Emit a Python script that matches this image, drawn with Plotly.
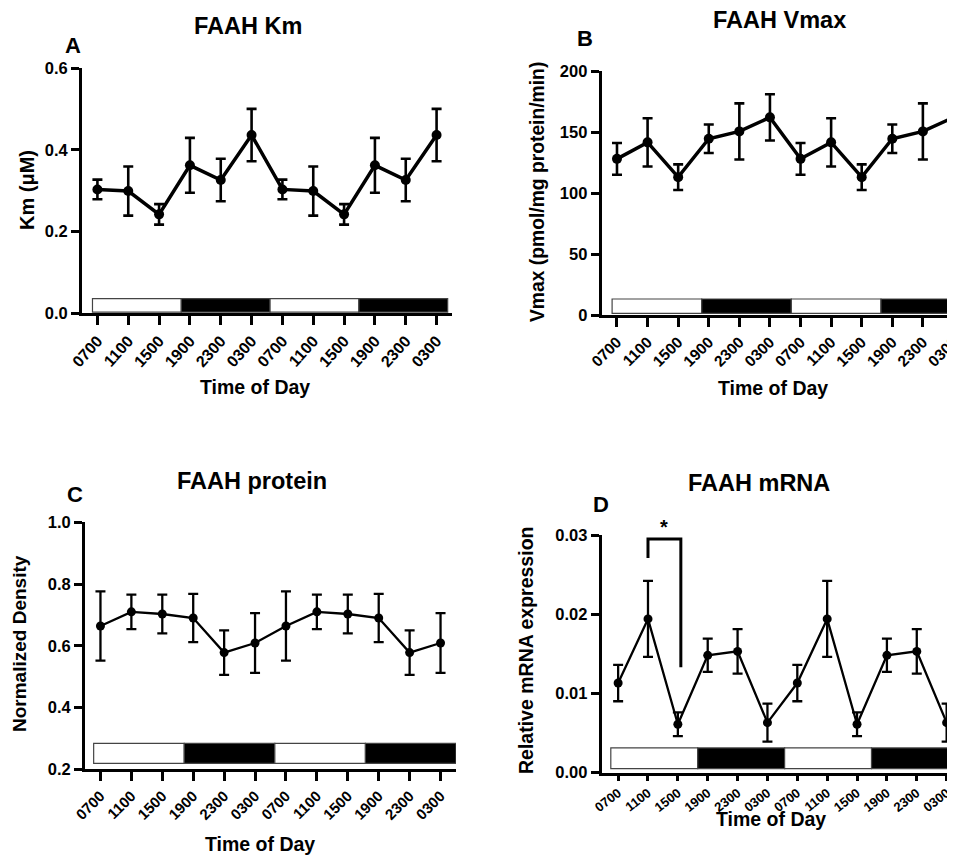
import plotly.graph_objects as go

# ---------------- data ----------------
time_labels = ["0700", "1100", "1500", "1900", "2300", "0300",
               "0700", "1100", "1500", "1900", "2300", "0300"]

km_mean = [0.303, 0.299, 0.242, 0.362, 0.326, 0.436,
           0.303, 0.299, 0.242, 0.362, 0.326, 0.436]
km_sem = [0.024, 0.060, 0.025, 0.067, 0.052, 0.064,
          0.024, 0.060, 0.025, 0.067, 0.052, 0.064]

vmax_mean = [128.0, 141.5, 113.0, 144.5, 150.5, 162.0,
             128.0, 141.5, 113.0, 144.5, 150.5, 162.0]
vmax_sem = [13.0, 19.8, 10.5, 11.7, 23.0, 19.0,
            13.0, 19.8, 10.5, 11.7, 23.0, 19.0]

protein_mean = [0.664, 0.710, 0.703, 0.690, 0.578, 0.609,
                0.664, 0.710, 0.703, 0.690, 0.578, 0.609]
protein_sem = [0.112, 0.056, 0.063, 0.078, 0.072, 0.097,
               0.112, 0.056, 0.063, 0.078, 0.072, 0.097]

mrna_mean = [0.0113, 0.0194, 0.0061, 0.0148, 0.0153, 0.0063,
             0.0113, 0.0194, 0.0061, 0.0148, 0.0153, 0.0063]
mrna_sem = [0.0023, 0.0048, 0.0015, 0.0021, 0.0028, 0.0024,
            0.0023, 0.0048, 0.0015, 0.0021, 0.0028, 0.0024]

ld_phases = ["light", "dark", "light", "dark"]

W, H = 955, 855
PAGE_OFFSET = 8  # default body margin of the html page
FONT = "Arial, Liberation Sans, Helvetica, sans-serif"
x_idx = list(range(len(time_labels)))


def px_x(p):
    return (p - PAGE_OFFSET) / W


def px_y(p):
    return 1 - (p - PAGE_OFFSET) / H


panels = [
    dict(key="A", title="FAAH Km", ytitle="Km (\u03bcM)", mean=km_mean, sem=km_sem,
         xdom=(82, 452), ydom=(313.3, 68), xr=[-0.5, 11.5], yr=[0, 0.6],
         ytick=[0, 0.2, 0.4, 0.6], yfmt=".1f", lw=3.5, ms=10, ew=2.6, ecap=5,
         bar=(-0.16, 2.88, 0.003, 0.036), ytsize=20, xtf=16, xtl=9, xta=-48,
         title_xy=(248, 26), letter_xy=(73, 46), xt_xy=(255, 387), yt_xy=(27, 190)),
    dict(key="B", title="FAAH Vmax", ytitle="Vmax (pmol/mg protein/min)", mean=vmax_mean, sem=vmax_sem,
         xdom=(601.7, 955), ydom=(315, 71), xr=[-0.5, 11.05], yr=[0, 200],
         ytick=[0, 50, 100, 150, 200], yfmt="d", lw=3.5, ms=10, ew=2.6, ecap=5,
         bar=(-0.16, 2.93, 1.4, 13.1), ytsize=19.3, xtf=15.5, xtl=9, xta=-45,
         title_xy=(779, 20), letter_xy=(585, 38), xt_xy=(773, 388), yt_xy=(538, 192)),
    dict(key="C", title="FAAH protein", ytitle="Normalized Density", mean=protein_mean, sem=protein_sem,
         xdom=(85, 456), ydom=(769.3, 522.3), xr=[-0.5, 11.5], yr=[0.2, 1.0],
         ytick=[0.2, 0.4, 0.6, 0.8, 1.0], yfmt=".1f", lw=2.3, ms=9, ew=2.3, ecap=5,
         bar=(-0.22, 2.93, 0.219, 0.284), ytsize=19, xtf=15, xtl=9, xta=-45,
         title_xy=(252, 481), letter_xy=(75, 494), xt_xy=(260, 844), yt_xy=(19, 644)),
    dict(key="D", title="FAAH mRNA", ytitle="Relative mRNA expression", mean=mrna_mean, sem=mrna_sem,
         xdom=(601.7, 955), ydom=(772.5, 535), xr=[-0.55, 11.28], yr=[0, 0.03],
         ytick=[0, 0.01, 0.02, 0.03], yfmt=".2f", lw=2.3, ms=9, ew=2.3, ecap=5,
         bar=(-0.245, 2.91, 0.0005, 0.0031), ytsize=19.5, xtf=13, xtl=5, xta=-38,
         title_xy=(759, 483), letter_xy=(601, 505), xt_xy=(771, 819), yt_xy=(526, 651)),
]

fig = go.Figure()
shapes = []
annotations = []
layout_axes = {}

for i, p in enumerate(panels):
    n = "" if i == 0 else str(i + 1)
    xa, ya = "x" + n, "y" + n
    fig.add_trace(go.Scatter(
        x=x_idx, y=p["mean"], xaxis=xa, yaxis=ya, mode="lines+markers",
        line=dict(color="black", width=p["lw"]),
        marker=dict(color="black", size=p["ms"], symbol="circle"),
        error_y=dict(type="data", array=p["sem"], visible=True, color="black",
                     thickness=p["ew"], width=p["ecap"]),
        showlegend=False, hoverinfo="skip", cliponaxis=True,
    ))
    layout_axes["xaxis" + n] = dict(
        domain=[px_x(p["xdom"][0]), px_x(p["xdom"][1])], anchor=ya, automargin=False,
        range=p["xr"], tickmode="array", tickvals=x_idx, ticktext=time_labels,
        tickangle=p["xta"], ticks="outside", ticklen=p["xtl"], tickwidth=3, tickcolor="black",
        showline=True, linewidth=3, linecolor="black", showgrid=False, zeroline=False,
        tickfont=dict(family=FONT, size=p["xtf"], color="black", weight="bold"),
        ticklabeloverflow="allow", fixedrange=True,
    )
    layout_axes["yaxis" + n] = dict(
        domain=[px_y(p["ydom"][0]), px_y(p["ydom"][1])], anchor=xa, automargin=False,
        range=p["yr"], tickmode="array", tickvals=p["ytick"], tickformat=p["yfmt"],
        ticks="outside", ticklen=8, tickwidth=3, tickcolor="black",
        showline=True, linewidth=3, linecolor="black", showgrid=False, zeroline=False,
        tickfont=dict(family=FONT, size=16.5, color="black", weight="bold"),
        fixedrange=True,
    )
    # light/dark bar
    x0, w, b0, b1 = p["bar"]
    for k, phase in enumerate(ld_phases):
        shapes.append(dict(
            type="rect", xref=xa, yref=ya, x0=x0 + k * w, x1=x0 + (k + 1) * w, y0=b0, y1=b1,
            fillcolor="white" if phase == "light" else "black",
            line=dict(color="#444444", width=1.2), layer="below",
        ))
    # texts
    tx, ty = p["title_xy"]
    annotations.append(dict(text=p["title"], x=px_x(tx), y=px_y(ty), xref="paper", yref="paper",
                            showarrow=False, xanchor="center", yanchor="middle",
                            font=dict(family=FONT, size=23.5, color="black", weight="bold")))
    lx, ly = p["letter_xy"]
    annotations.append(dict(text=p["key"], x=px_x(lx), y=px_y(ly), xref="paper", yref="paper",
                            showarrow=False, xanchor="center", yanchor="middle",
                            font=dict(family=FONT, size=22, color="black", weight="bold")))
    xtx, xty = p["xt_xy"]
    annotations.append(dict(text="Time of Day", x=px_x(xtx), y=px_y(xty), xref="paper", yref="paper",
                            showarrow=False, xanchor="center", yanchor="middle",
                            font=dict(family=FONT, size=19.5, color="black", weight="bold")))
    ytx, yty = p["yt_xy"]
    annotations.append(dict(text=p["ytitle"], x=px_x(ytx), y=px_y(yty), xref="paper", yref="paper",
                            showarrow=False, xanchor="center", yanchor="middle", textangle=-90,
                            font=dict(family=FONT, size=p["ytsize"], color="black", weight="bold")))

# significance bracket in panel D (1100 vs 1500)
bracket_x = [1.0, 1.0, 2.1, 2.1]
bracket_y = [0.0271, 0.0295, 0.0295, 0.0133]
fig.add_trace(go.Scatter(x=bracket_x, y=bracket_y, xaxis="x4", yaxis="y4", mode="lines",
                         line=dict(color="black", width=3), showlegend=False,
                         hoverinfo="skip", cliponaxis=False))
annotations.append(dict(text="*", x=px_x(664), y=px_y(527), xref="paper", yref="paper",
                        showarrow=False, xanchor="center", yanchor="middle",
                        font=dict(family=FONT, size=20, color="black", weight="bold")))

fig.update_layout(
    template="none",
    width=W, height=H, margin=dict(l=0, r=0, t=0, b=0, autoexpand=False),
    paper_bgcolor="white", plot_bgcolor="white",
    shapes=shapes, annotations=annotations, showlegend=False,
    **layout_axes,
)

fig.write_html("out.html")
